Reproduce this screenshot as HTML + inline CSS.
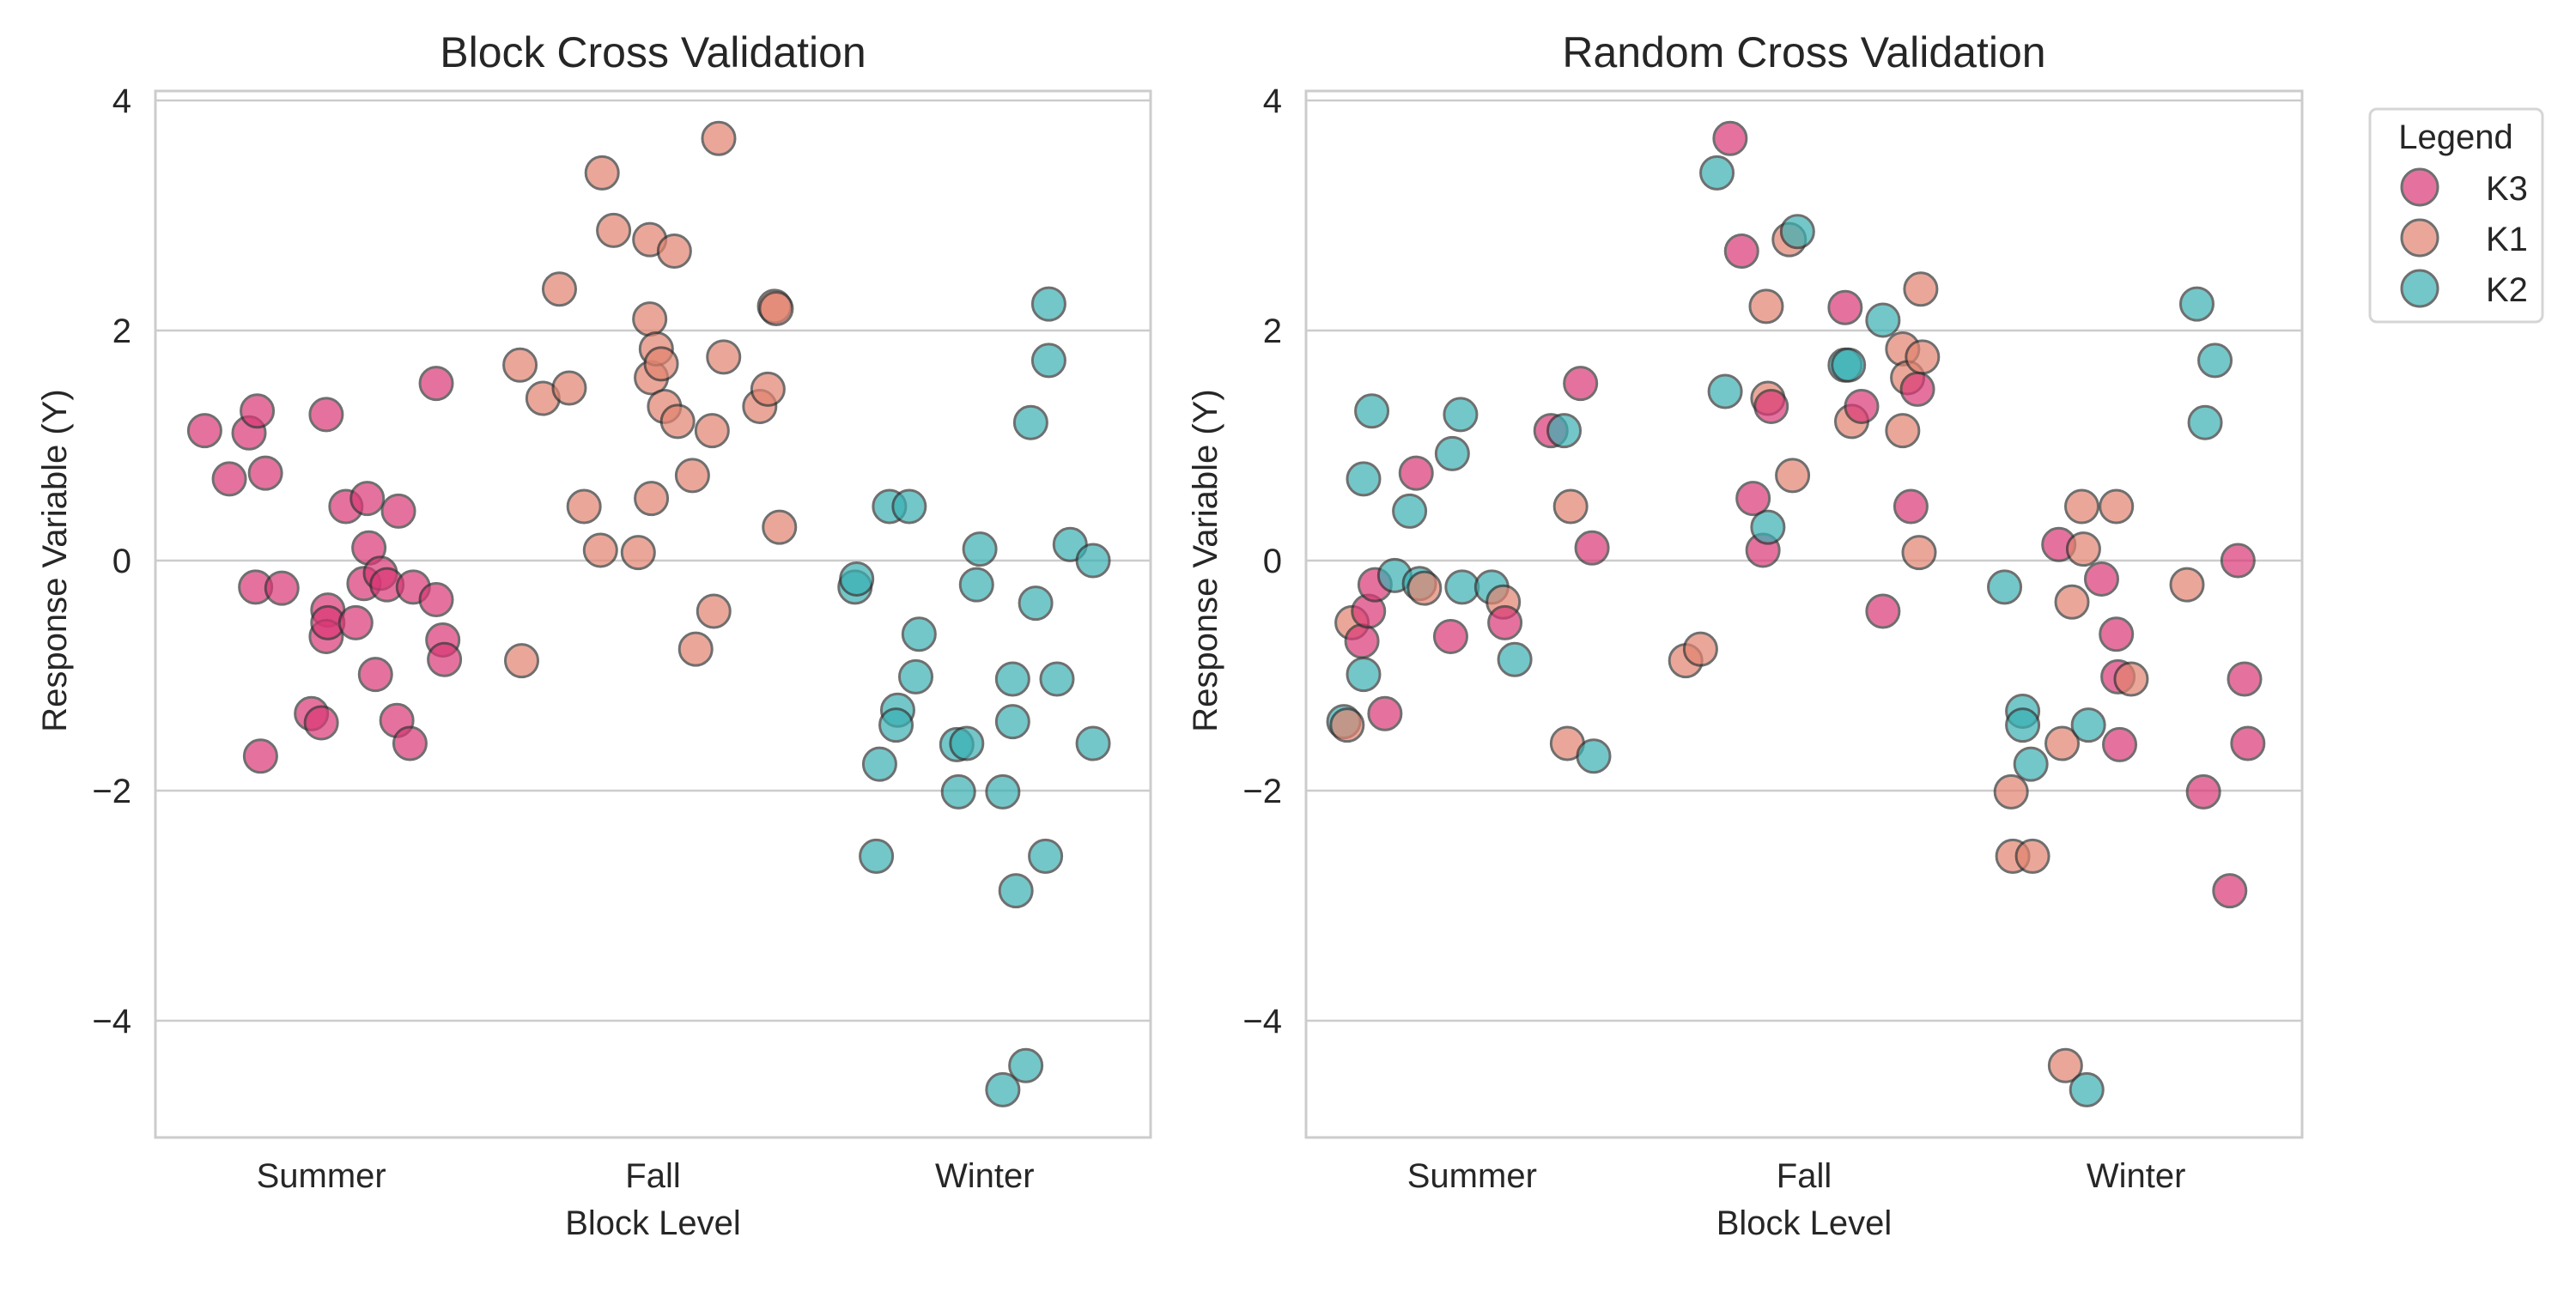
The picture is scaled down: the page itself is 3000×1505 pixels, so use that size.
<!DOCTYPE html>
<html><head><meta charset="utf-8"><style>
html,body{margin:0;padding:0;background:#fff}
svg text{font-family:"Liberation Sans","DejaVu Sans",sans-serif;fill:#262626}
</style></head><body>
<svg id="chart" width="3000" height="1500" viewBox="0 0 3000 1500" xmlns="http://www.w3.org/2000/svg"></svg>
<script>
const categories = ["Summer","Fall","Winter"];
const yTicks = [-4,-2,0,2,4];
const seriesNames = ["K3","K1","K2"];
// Block panel: category index, jitter (measured screen x), y value
const blockCat = [0,0,0,0,0,0,0,0,0,0,0,0,0,0,0,0,0,0,0,0,0,0,0,0,0,0,0,0,0,0,
 1,1,1,1,1,1,1,1,1,1,1,1,1,1,1,1,1,1,1,1,1,1,1,1,1,1,1,1,1,1,
 2,2,2,2,2,2,2,2,2,2,2,2,2,2,2,2,2,2,2,2,2,2,2,2,2,2,2,2,2,2];
const blockDx = [125,140,152,157,162,156,172,159,190,196,199,200,199,200,211,224,217,222,225,229,232,236,243,242,250,252,266,266,270,271,
 318,317,331,341,347,356,367,366,374,389,396,396,397,397,400,403,405,411,413,422,424,434,435,438,441,463,468,472,473,475,
 521,522,534,536,542,554,547,546,558,560,584,583,589,595,597,611,611,617,617,619,625,628,631,637,639,639,644,652,666,666];
const blockY = [1.13,0.71,1.11,1.30,0.76,-0.23,-0.24,-1.70,-1.33,-1.41,1.27,-0.43,-0.66,-0.54,0.47,0.54,-0.54,-0.20,0.11,-0.99,-0.11,-0.21,0.43,-1.39,-1.59,-0.23,1.54,-0.34,-0.69,-0.86,
 -0.87,1.70,1.41,2.36,1.50,0.47,3.37,0.09,2.87,0.07,2.79,2.10,1.59,0.54,1.84,1.71,1.34,2.69,1.21,0.74,-0.77,1.13,-0.44,3.67,1.77,1.34,1.49,2.21,2.19,0.29,
 -0.23,-0.16,-2.57,-1.77,0.47,0.47,-1.30,-1.43,-1.01,-0.64,-2.01,-1.60,-1.59,-0.21,0.10,-2.01,-4.60,-1.03,-1.40,-2.87,-4.39,1.20,-0.37,-2.57,2.23,1.74,-1.03,0.14,-1.59,0.00];
const blockSeries = [0,0,0,0,0,0,0,0,0,0,0,0,0,0,0,0,0,0,0,0,0,0,0,0,0,0,0,0,0,0,
 1,1,1,1,1,1,1,1,1,1,1,1,1,1,1,1,1,1,1,1,1,1,1,1,1,1,1,1,1,1,
 2,2,2,2,2,2,2,2,2,2,2,2,2,2,2,2,2,2,2,2,2,2,2,2,2,2,2,2,2,2];
// Random panel
const randCat = blockCat;
const randDx = [818,820,823,829,830,830,833,835,837,843,849,858,862,864,867,883,884,889,890,908,915,916,922,944,952,954,956,962,969,970,
 1026,1035,1045,1050,1053,1060,1067,1073,1075,1076,1076,1078,1089,1094,1091,1123,1123,1125,1127,1133,1146,1146,1158,1158,1161,1163,1167,1168,1170,1169,
 1220,1224,1225,1231,1231,1237,1236,1253,1257,1255,1261,1267,1268,1270,1271,1279,1288,1288,1289,1290,1297,1331,1337,1341,1342,1348,1357,1362,1366,1368];
const randY = [-1.40,-1.43,-0.54,-0.70,-0.99,0.71,-0.44,1.30,-0.21,-1.33,-0.13,0.43,0.76,-0.20,-0.24,-0.66,0.93,1.27,-0.23,-0.23,-0.36,-0.54,-0.86,1.13,1.13,-1.59,0.47,1.54,0.11,-1.70,
 -0.87,-0.77,3.37,1.47,3.67,2.69,0.54,0.09,2.21,0.29,1.41,1.34,2.79,2.86,0.74,2.20,1.70,1.70,1.21,1.34,-0.44,2.09,1.84,1.13,1.59,0.47,1.49,0.07,1.77,2.36,
 -0.23,-2.01,-2.57,-1.31,-1.43,-2.57,-1.77,0.14,-4.39,-1.59,-0.36,0.47,0.10,-4.60,-1.43,-0.16,0.47,-0.64,-1.01,-1.60,-1.03,-0.21,2.23,-2.01,1.20,1.74,-2.87,0.00,-1.03,-1.59];
const randSeries = [2,1,1,0,2,2,0,2,0,0,2,2,0,2,1,0,2,2,2,2,1,0,2,0,2,1,1,0,0,2,
 1,1,2,2,0,0,0,0,1,2,1,0,1,2,1,0,2,2,1,0,0,2,1,1,1,0,0,1,1,1,
 2,1,1,2,2,1,2,0,1,1,1,1,1,2,2,0,1,0,0,0,1,1,2,0,2,2,0,0,0,0];

const colors=["#db3776","#e2836f","#38b0b3"];
const NS="http://www.w3.org/2000/svg";
const svg=document.getElementById('chart');
function mk(tag,attrs,parent,text){const e=document.createElementNS(NS,tag);for(const k in attrs)e.setAttribute(k,attrs[k]);if(text!==undefined)e.textContent=text;(parent||svg).appendChild(e);return e;}

const Y0=653, PER=134;
function yScale(v){return Y0-v*PER;}
const panels=[
 {x0:181,x1:1340,title:"Block Cross Validation",cat:blockCat,dx:blockDx,y:blockY,s:blockSeries,centers:[196,398,600],name:"block"},
 {x0:1521,x1:2681,title:"Random Cross Validation",cat:randCat,dx:randDx,y:randY,s:randSeries,centers:[896,1098,1300],name:"random"}
];
panels.forEach(p=>{
  const w=p.x1-p.x0;
  function xScale(ci,j){return p.x0+w*(ci+0.5)/3+j*w/3;}
  const g=mk('g',{});
  
  
  yTicks.forEach(t=>{
    const l=mk('line',{x1:p.x0,x2:p.x1,y1:yScale(t),y2:yScale(t),stroke:"#cccccc","stroke-width":2.5},g);
    
    
    const tx=mk('text',{x:p.x0-28,y:yScale(t)+14,"text-anchor":"end","font-size":40},g,t<0?"\u2212"+Math.abs(t):String(t));
    
    
  });
  const fr=mk('rect',{x:p.x0,y:106,width:w,height:1325-106,fill:"none",stroke:"#cccccc","stroke-width":3},g);
  
  
  categories.forEach((c,i)=>{
    const t=mk('text',{x:xScale(i,0),y:1383,"text-anchor":"middle","font-size":40},g,c);
    
    
  });
  const xt=mk('text',{x:(p.x0+p.x1)/2,y:1438,"text-anchor":"middle","font-size":40},g,"Block Level");
  
  
  const yx=p.x0-104, yy=yScale(0);
  const yt=mk('text',{x:yx,y:yy,"text-anchor":"middle","font-size":40,transform:`rotate(-90 ${yx} ${yy})`},g,"Response Variable (Y)");
  
  
  const ti=mk('text',{x:(p.x0+p.x1)/2,y:78,"text-anchor":"middle","font-size":50},g,p.title);
  
  
  for(let i=0;i<p.y.length;i++){
    const ci=p.cat[i];
    const j=(p.dx[i]-p.centers[ci])/202;
    const c=mk('circle',{cx:xScale(ci,j),cy:yScale(p.y[i]),r:19,fill:colors[p.s[i]],stroke:"#333","stroke-width":3,opacity:0.7},g);
    
    
  }
});
// legend
const lg=mk('g',{});


mk('rect',{x:2760,y:127,width:201,height:248,rx:8,fill:"#fff",stroke:"#d5d5d5","stroke-width":3},lg);
const lt=mk('text',{x:2860,y:173,"text-anchor":"middle","font-size":40},lg,"Legend");


seriesNames.forEach((n,i)=>{
  const cy=218+i*59;
  const c=mk('circle',{cx:2818,cy:cy,r:21,fill:colors[i],stroke:"#333","stroke-width":3,opacity:0.7},lg);
  
  
  const t=mk('text',{x:2895,y:cy+15,"font-size":40},lg,n);
  
  
});
</script>
</body></html>
